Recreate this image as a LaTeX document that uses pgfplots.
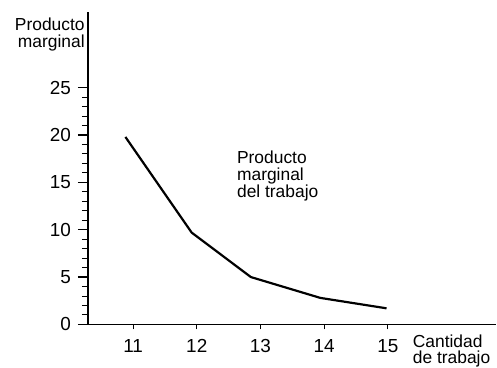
\documentclass[border=0pt]{standalone}
\usepackage{fontspec}
\setmainfont{Liberation Sans}
\usepackage{pgfplots}
\pgfplotsset{compat=1.18}
\begin{document}
\fontsize{17.5}{17}\selectfont
\begin{tikzpicture}
\begin{axis}[
  scale only axis, width=409bp, height=313bp,
  at={(0,0)}, anchor=origin,
  xmin=10.29, xmax=16.7, ymin=0, ymax=33,
  axis x line=bottom, axis y line=left,
  axis line style={line width=1.8pt, -},
  xtick=\empty,
  extra x ticks={11,12,13,14,15},
  extra tick style={major tick length=5bp, tick style={line width=0.9pt, black}},
  ytick={0,5,10,15,20,25},
  minor ytick={1,2,3,4,6,7,8,9,11,12,13,14,16,17,18,19,21,22,23,24},
  tick align=outside,
  major tick length=10bp, minor tick length=6bp,
  y tick style={line width=1.2pt, black},
  minor y tick style={line width=1pt},
  yticklabel style={xshift=-1bp},
  xticklabel style={yshift=-4bp},
  /pgf/number format/assume math mode=true,
  ticklabel style={font=\fontsize{19}{19}\selectfont},
  clip=false,
]
\addplot[black, line width=2.2pt] coordinates {
  (10.88,19.8) (11.92,9.7) (12.85,5.0) (13.94,2.8) (14.98,1.7)
};
\node[anchor=north east, align=right, inner sep=0pt, font=\fontsize{17.5}{16.5}\selectfont] at (rel axis cs:0,1) [xshift=-3bp, yshift=-6bp] {Producto\\marginal};
\node[anchor=north west, align=left, inner sep=0pt, font=\fontsize{17.5}{17}\selectfont] at (axis cs:12.63,18.1) [yshift=2bp] {Producto\\marginal\\del trabajo};
\node[anchor=north west, align=left, inner sep=0pt, font=\fontsize{17.5}{16.5}\selectfont] at (axis cs:15.39,0) [yshift=-10bp] {Cantidad\\de trabajo};
\end{axis}
\path[use as bounding box] (-88bp,-43bp) rectangle (409bp,325bp);
\end{tikzpicture}
\end{document}
